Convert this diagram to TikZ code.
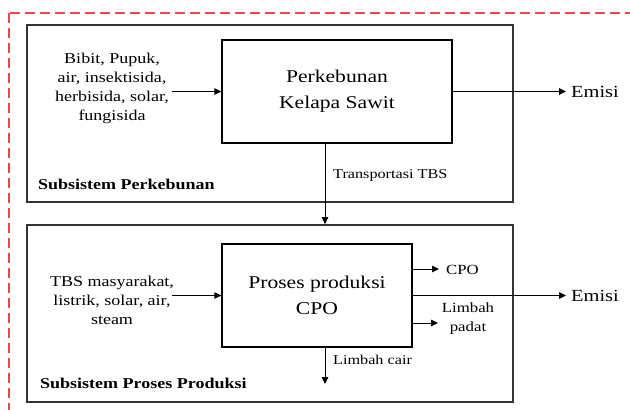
\documentclass[tikz,border=0pt]{standalone}
\usepackage{fontspec}
\setmainfont{Liberation Serif}[FakeStretch=1.2]
\usetikzlibrary{arrows.meta}
\definecolor{framered}{RGB}{240,70,70}
\begin{document}
\begin{tikzpicture}[x=1pt,y=-1pt,
  subbox/.style={draw=black!80, line width=1.8pt, minimum width=486pt, minimum height=177pt, inner sep=0pt},
  procbox/.style={draw=black, line width=1.3pt, minimum height=103pt, inner sep=0pt, align=center, font=\fontsize{18pt}{26pt}\selectfont},
  flow/.style={-{Triangle[length=7pt,width=6.5pt]}, line width=1pt},
  intext/.style={inner sep=0pt, align=center, font=\fontsize{15pt}{19pt}\selectfont},
  outtext/.style={inner sep=0pt, anchor=west, font=\fontsize{17pt}{20pt}\selectfont},
  smalltext/.style={inner sep=0pt, align=center, font=\fontsize{14pt}{19pt}\selectfont},
  subtitle/.style={inner sep=0pt, anchor=west, font=\fontsize{15pt}{18pt}\selectfont\bfseries}]
\useasboundingbox (0,0) rectangle (630,410);
\clip (0,0) rectangle (630,410);
\fill[white] (0,0) rectangle (630,410);
% outer dashed frame
\draw[framered, line width=1.2pt, dash pattern=on 10pt off 5pt] (9,13) rectangle (660,440);
% subsystem boxes
\node[subbox] (sub1) at (270,113.5) {};
\node[subbox] (sub2) at (270,313.5) {};
% process boxes
\node[procbox, minimum width=230pt] (pk) at (337,91.5) {Perkebunan\\Kelapa Sawit};
\node[procbox, minimum width=190pt] (pp) at (317,295.5) {Proses produksi\\CPO};
% upper subsystem
\node[intext] (in1) at (112,88) {Bibit, Pupuk,\\air, insektisida,\\herbisida, solar,\\fungisida};
\coordinate (a1) at (172,91.5);
\draw[flow] (a1) -- (pk.west);
\node[outtext] (em1) at (571,92) {Emisi};
\coordinate (e1) at (566,91.5);
\draw[flow] (pk.east) -- (e1);
\node[subtitle] (st1) at (38,184) {Subsistem Perkebunan};
\coordinate (t1) at (325,143);
\draw[flow] (t1) -- (t1 |- sub2.north);
\node[inner sep=0pt, anchor=west, font=\fontsize{13.5pt}{16pt}\selectfont] (tr) at (333,175) {Transportasi TBS};
% lower subsystem
\node[intext] (in2) at (112,300) {TBS masyarakat,\\listrik, solar, air,\\steam};
\coordinate (a2) at (172,295.5);
\draw[flow] (a2) -- (pp.west);
\node[outtext] (em2) at (571,296) {Emisi};
\coordinate (e2) at (566,295.5);
\draw[flow] (pp.east) -- (e2);
\coordinate (c1) at (412,269);
\coordinate (c2) at (439,269);
\draw[flow] (c1) -- (c2);
\node[smalltext, anchor=west] (cpo) at (446,270) {CPO};
\coordinate (l1) at (412,323);
\coordinate (l2) at (438,323);
\draw[flow] (l1) -- (l2);
\node[smalltext] (lp) at (468,319) {Limbah\\padat};
\coordinate (w1) at (325,347);
\coordinate (w2) at (325,384);
\draw[flow] (w1) -- (w2);
\node[inner sep=0pt, anchor=west, font=\fontsize{13.5pt}{16pt}\selectfont] (lc) at (333,360) {Limbah cair};
\node[subtitle] (st2) at (40,383) {Subsistem Proses Produksi};
\end{tikzpicture}
\end{document}
